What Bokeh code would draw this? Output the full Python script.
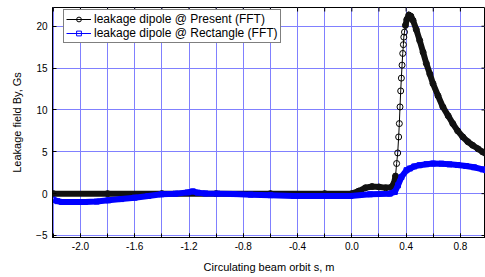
import numpy as np
from bokeh.plotting import figure
from bokeh.models import (Range1d, FixedTicker, LinearAxis, Legend, LegendItem, Grid)
from bokeh.embed import file_html
from bokeh.resources import INLINE

# ---- data ----
present_s = [-2.2, -1.8, -1.4, -1.0, -0.6, -0.2, 0.0, 0.05, 0.1, 0.15, 0.2, 0.25, 0.29,
             0.31, 0.322, 0.33, 0.338, 0.345, 0.35, 0.355, 0.36, 0.365, 0.37, 0.375,
             0.38, 0.383, 0.388, 0.395, 0.405, 0.42, 0.435, 0.451, 0.475, 0.5, 0.525,
             0.549, 0.575, 0.598, 0.635, 0.671, 0.71, 0.744, 0.78, 0.818, 0.855, 0.89,
             0.93, 0.964, 0.99]
present_by = [0.0, 0.0, 0.0, 0.0, 0.0, 0.0, 0.0, 0.3, 0.7, 0.85, 0.8, 0.7, 0.75,
              1.2, 2.1, 3.6, 4.86, 6.77, 8.37, 10.36, 12.27, 13.8, 15.35, 16.75,
              17.8, 18.7, 19.3, 20.1, 20.8, 21.35, 21.2, 20.7, 19.6, 18.3, 16.9,
              15.55, 14.3, 13.15, 11.7, 10.36, 9.3, 8.37, 7.5, 6.77, 6.2, 5.78,
              5.35, 4.98, 4.75]

rect_s = [-2.2, -2.17, -2.137, -2.05, -1.966, -1.88, -1.795, -1.7, -1.6, -1.5, -1.404,
          -1.3, -1.209, -1.172, -1.136, -1.08, -0.99, -0.87, -0.745, -0.6, -0.428,
          -0.183, -0.01, 0.134, 0.28, 0.317, 0.34, 0.366, 0.403, 0.427, 0.46, 0.5,
          0.55, 0.598, 0.66, 0.72, 0.78, 0.842, 0.9, 0.964, 0.99]
rect_by = [-0.72, -0.9, -1.0, -1.0, -1.0, -0.95, -0.8, -0.65, -0.48, -0.28, -0.08,
           0.0, 0.15, 0.27, 0.12, 0.03, 0.0, -0.05, -0.12, -0.18, -0.28,
           -0.28, -0.28, -0.08, 0.0, 0.2, 1.0, 2.0, 2.8, 3.0, 3.25, 3.4,
           3.52, 3.6, 3.58, 3.5, 3.42, 3.3, 3.15, 2.9, 2.8]

x_major = [-2.0, -1.6, -1.2, -0.8, -0.4, 0.0, 0.4, 0.8]
x_grid = [-2.2, -2.0, -1.8, -1.6, -1.4, -1.2, -1.0, -0.8, -0.6, -0.4, -0.2, 0.0,
          0.2, 0.4, 0.6, 0.8]
y_ticks = [-5, 0, 5, 10, 15, 20]

FONT = "Liberation Sans"
X0, X1 = -2.206, 0.985
Y0, Y1 = -5.24, 22.24
FW, FH = 433, 230

p = figure(width=485, height=277, output_backend="svg", toolbar_location=None,
           x_range=Range1d(X0, X1), y_range=Range1d(Y0, Y1),
           frame_width=FW, frame_height=FH,
           min_border_left=52, min_border_right=0, min_border_top=7,
           min_border_bottom=40, x_axis_type=None, y_axis_type=None)
p.outline_line_color = "black"
p.outline_line_width = 1
p.background_fill_color = "white"

def style_axis(ax):
    ax.axis_line_color = "black"
    ax.major_tick_in = 4
    ax.major_tick_out = 0
    ax.minor_tick_in = 4
    ax.minor_tick_out = 0
    ax.major_tick_line_color = "black"
    ax.minor_tick_line_color = "black"
    ax.major_label_text_font = FONT
    ax.major_label_text_font_size = "10px"
    ax.major_label_text_color = "black"
    ax.axis_label_text_font = FONT
    ax.axis_label_text_font_size = "11px"
    ax.axis_label_text_font_style = "normal"
    ax.axis_label_text_color = "black"

xb = LinearAxis(ticker=FixedTicker(ticks=x_major, minor_ticks=x_grid),
                axis_label="Circulating beam orbit s, m")
style_axis(xb)
xb.major_label_standoff = 4
xb.axis_label_standoff = 8
xb.major_label_overrides = {v: f"{v:.1f}" for v in x_major}
p.add_layout(xb, "below")

yl = LinearAxis(ticker=FixedTicker(ticks=y_ticks), axis_label="Leakage field By, Gs")
style_axis(yl)
yl.major_label_standoff = 5
yl.axis_label_standoff = 10
p.add_layout(yl, "left")

gx = Grid(dimension=0, ticker=FixedTicker(ticks=x_grid), grid_line_color="#8080ff",
          grid_line_width=1)
gy = Grid(dimension=1, ticker=FixedTicker(ticks=y_ticks), grid_line_color="#8080ff",
          grid_line_width=1)
p.add_layout(gx)
p.add_layout(gy)

# inward ticks on the top and right frame edges (4 px long)
tlen_y = 4 * (Y1 - Y0) / FH
tlen_x = 4 * (X1 - X0) / FW
p.segment(x0=x_grid, y0=[Y1] * len(x_grid), x1=x_grid, y1=[Y1 - tlen_y] * len(x_grid),
          line_color="black", line_width=1)
p.segment(x0=[X1] * len(y_ticks), y0=y_ticks, x1=[X1 - tlen_x] * len(y_ticks),
          y1=y_ticks, line_color="black", line_width=1)

# ---- Present (black) ----
ps = np.array(present_s, dtype=float)
pb = np.array(present_by, dtype=float)
sx = FW / (X1 - X0)
sy = FH / (Y1 - Y0)
slope = np.abs(np.diff(pb) * sy) / (np.diff(ps) * sx)
steep = slope > 5
band_s, band_b = [], []
for i in range(len(ps) - 1):
    if not steep[i]:
        band_s += [ps[i], ps[i + 1], np.nan]
        band_b += [pb[i], pb[i + 1], np.nan]
l1 = p.line(ps, pb, line_color="black", line_width=1)
m1 = p.scatter(ps, pb, marker="circle", size=6, line_color="black",
               fill_color=None, line_width=1)
p.line(band_s, band_b, line_color="#111111", line_width=6, line_join="round",
       line_cap="round")

# ---- Rectangle (blue) ----
l2 = p.line(rect_s, rect_by, line_color="#0000ff", line_width=1)
m2 = p.scatter(rect_s, rect_by, marker="square", size=5, line_color="#0000ff",
               fill_color=None, line_width=1)
p.line(rect_s, rect_by, line_color="#0000ff", line_width=6, line_join="round")

legend = Legend(items=[
    LegendItem(label="leakage dipole @ Present (FFT)", renderers=[l1, m1]),
    LegendItem(label="leakage dipole @ Rectangle (FFT)", renderers=[l2, m2]),
], location=(11, FH - 4 - 32))
legend.label_text_font = FONT
legend.label_text_font_size = "12px"
legend.label_text_color = "black"
legend.label_standoff = 3
legend.label_height = 12
legend.glyph_width = 25
legend.glyph_height = 12
legend.spacing = 0
legend.padding = 2
legend.margin = 0
legend.border_line_color = "black"
legend.border_line_width = 1
legend.background_fill_color = "white"
legend.background_fill_alpha = 1
p.add_layout(legend, "center")

open("out.html", "w").write(file_html(p, INLINE))
